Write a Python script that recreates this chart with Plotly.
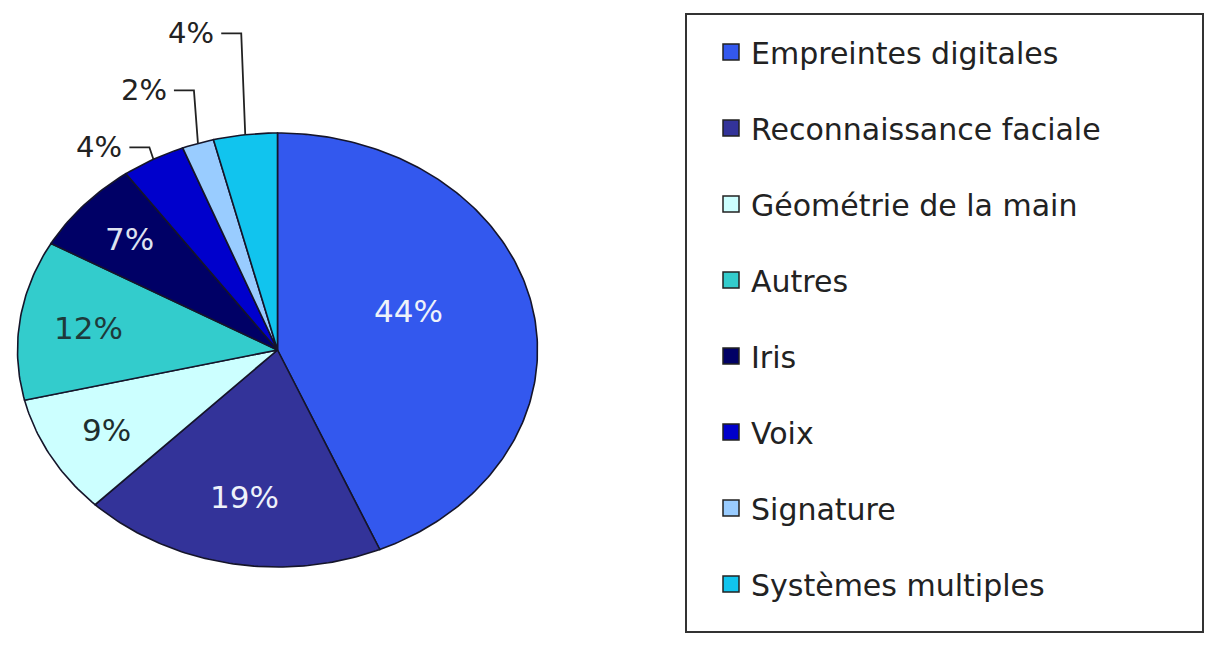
import numpy as np
import plotly.graph_objects as go

# Parts de marché des technologies biométriques
categories = [
    "Empreintes digitales",
    "Reconnaissance faciale",
    "Géométrie de la main",
    "Autres",
    "Iris",
    "Voix",
    "Signature",
    "Systèmes multiples",
]
values = [44, 19, 9, 12, 7, 4, 2, 4]
colors = ["#3358EE", "#333399", "#CCFFFF", "#33CCCC", "#000066", "#0000CC", "#99CCFF", "#11C4EE"]
label_colors = ["#EEF2FA", "#EEF2FA", "#1E2E2E", "#1E3A3A", "#DDE2F0", "#222222", "#222222", "#222222"]

W, H = 1208, 646
CX, CY = 277.5, 350.0      # pie centre (pixels)
RX, RY = 260.0, 217.0      # elliptical radii (pixels)
EDGE = "#15152A"
FONT = "DejaVu Sans"


def pt(theta, r=1.0):
    """Point on the ellipse at clockwise angle theta (radians) from 12 o'clock."""
    return CX + r * RX * np.sin(theta), CY - r * RY * np.cos(theta)


fig = go.Figure()

total = float(sum(values))
start = 0.0
annotations = []
prev_label_y = None
for name, v, col, lcol in zip(categories, values, colors, label_colors):
    frac = v / total
    a0, a1 = start * 2 * np.pi, (start + frac) * 2 * np.pi
    t = np.linspace(a0, a1, max(int(frac * 400), 8))
    ax, ay = pt(t)
    xs = np.concatenate([[CX], ax, [CX]])
    ys = np.concatenate([[CY], ay, [CY]])
    fig.add_trace(go.Scatter(
        x=xs, y=ys, mode="lines", fill="toself", fillcolor=col,
        line=dict(color=EDGE, width=1.6), hoverinfo="text",
        text=f"{name}: {v}%", showlegend=False, legendgroup=name,
    ))
    mid = (a0 + a1) / 2
    if v >= 5:
        # inside label, pulled toward the centre for the larger slices
        r = 0.81 - 0.63 * frac
        lmid = mid - 0.05 * frac * 2 * np.pi if frac > 0.3 else mid
        lx, ly = pt(lmid, r)
        annotations.append(dict(
            x=lx, y=ly, text=f"{v}%", showarrow=False,
            font=dict(family=FONT, size=31, color=lcol),
            xanchor="center", yanchor="middle",
        ))
    else:
        # outside label with an elbow leader line, stacked upward
        ex, ey = pt(mid)
        ly = ey - 12 if prev_label_y is None else min(ey - 12, prev_label_y - 57)
        prev_label_y = ly
        fig.add_trace(go.Scatter(
            x=[ex, ex - 4, ex - 24], y=[ey, ly, ly], mode="lines",
            line=dict(color="#222222", width=1.8), hoverinfo="skip",
            showlegend=False,
        ))
        annotations.append(dict(
            x=ex - 29, y=ly, text=f"{v}%", showarrow=False,
            font=dict(family=FONT, size=29, color="#222222"),
            xanchor="right", yanchor="middle",
        ))
    start += frac

# legend entries
for name, col in zip(categories, colors):
    fig.add_trace(go.Scatter(
        x=[None], y=[None], mode="markers", name=name, legendgroup=name,
        marker=dict(symbol="square", size=16, color=col, line=dict(color="#222222", width=1.5)),
    ))

fig.update_layout(
    width=W, height=H,
    margin=dict(l=0, r=0, t=0, b=0),
    paper_bgcolor="white", plot_bgcolor="white",
    xaxis=dict(range=[0, W], visible=False, fixedrange=True),
    yaxis=dict(range=[H, 0], visible=False, fixedrange=True),
    annotations=annotations,
    showlegend=True,
    legend=dict(
        x=711 / W, y=1 - 26 / H, xanchor="left", yanchor="top",
        font=dict(family=FONT, size=30, color="#222222"),
        itemsizing="trace", tracegroupgap=34, borderwidth=0,
        bgcolor="rgba(0,0,0,0)",
    ),
    shapes=[dict(
        type="rect", xref="paper", yref="paper",
        x0=686 / W, x1=1203 / W, y0=1 - 632 / H, y1=1 - 14 / H,
        line=dict(color="#333333", width=2), fillcolor="rgba(0,0,0,0)", layer="below",
    )],
)

fig.write_html("out.html")
